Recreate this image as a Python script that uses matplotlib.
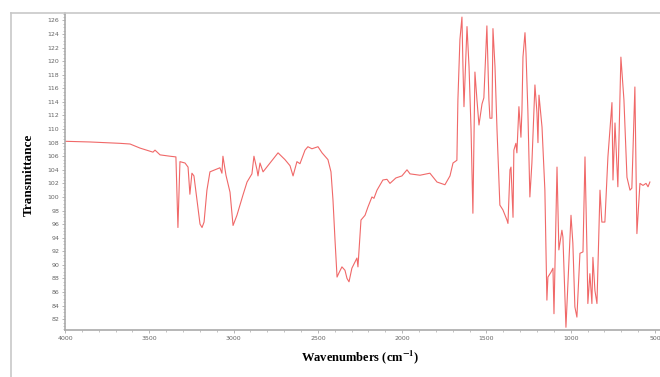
import numpy as np
import matplotlib
matplotlib.use("Agg")
import matplotlib.pyplot as plt
from matplotlib.lines import Line2D
from matplotlib.ticker import MultipleLocator

plt.rcParams["mathtext.fontset"] = "stix"

# FTIR spectrum (wavenumber in cm-1, transmittance)
wavenumber = [4000, 3852, 3674, 3614, 3555, 3478, 3466, 3436, 3377, 3342,
              3330, 3318, 3288, 3270, 3259, 3247, 3235, 3217, 3199, 3187,
              3175, 3158, 3140, 3110, 3081, 3069, 3063, 3045, 3021, 3003,
              2980, 2944, 2920, 2891, 2879, 2861, 2855, 2843, 2825, 2784,
              2736, 2695, 2665, 2647, 2624, 2606, 2576, 2559, 2535, 2499,
              2475, 2440, 2422, 2410, 2398, 2386, 2375, 2357, 2339, 2327,
              2315, 2298, 2268, 2262, 2244, 2220, 2203, 2179, 2167, 2149,
              2114, 2090, 2072, 2037, 2001, 1971, 1953, 1894, 1835, 1793,
              1746, 1716, 1698, 1675, 1669, 1657, 1645, 1639, 1633, 1615,
              1603, 1591, 1580, 1568, 1556, 1544, 1526, 1515, 1497, 1485,
              1479, 1467, 1461, 1449, 1437, 1420, 1402, 1378, 1372, 1360,
              1354, 1342, 1337, 1325, 1319, 1307, 1295, 1289, 1283, 1271,
              1265, 1254, 1242, 1230, 1212, 1200, 1194, 1188, 1176, 1170,
              1153, 1141, 1135, 1117, 1105, 1099, 1081, 1070, 1052, 1046,
              1028, 998, 987, 975, 963, 945, 927, 915, 903, 898,
              886, 874, 868, 856, 844, 826, 815, 797, 779, 755,
              749, 737, 720, 702, 684, 666, 648, 637, 619, 607,
              589, 571, 553, 541, 530]
transmittance = [108.2, 108.1, 107.9, 107.8, 107.2, 106.6, 106.9, 106.2, 106.0, 105.9,
                 95.5, 105.2, 105.0, 104.4, 100.4, 103.5, 103.1, 99.5, 96.0, 95.5,
                 96.3, 101.0, 103.7, 104.0, 104.3, 103.5, 106.0, 103.2, 100.7, 95.8,
                 97.3, 100.3, 102.2, 103.4, 106.0, 104.0, 103.1, 105.0, 103.7, 105.0,
                 106.5, 105.5, 104.6, 103.1, 105.2, 104.9, 106.9, 107.4, 107.1, 107.4,
                 106.5, 105.5, 103.7, 99.5, 93.6, 88.2, 88.8, 89.7, 89.2, 88.0,
                 87.5, 89.5, 91.0, 89.7, 96.6, 97.3, 98.5, 100.0, 99.8, 101.0,
                 102.5, 102.6, 102.0, 102.8, 103.1, 104.0, 103.4, 103.2, 103.5, 102.2,
                 101.8, 103.1, 105.0, 105.4, 114.3, 123.2, 126.5, 119.2, 113.3, 125.1,
                 119.2, 109.9, 97.6, 118.4, 114.3, 110.6, 113.7, 114.6, 125.2, 114.3,
                 111.6, 111.6, 124.8, 119.2, 109.9, 98.8, 98.1, 96.6, 96.1, 104.0,
                 104.4, 97.0, 106.9, 107.9, 106.5, 113.3, 108.8, 112.8, 120.6, 124.2,
                 121.2, 112.8, 100.0, 105.0, 116.5, 112.4, 108.0, 115.0, 111.8, 110.3,
                 101.0, 84.8, 88.2, 88.9, 89.5, 82.8, 104.4, 92.2, 95.1, 94.1,
                 80.8, 97.3, 93.2, 83.8, 82.3, 91.7, 91.9, 105.9, 91.7, 84.3,
                 88.7, 84.3, 91.1, 86.2, 84.3, 101.0, 96.3, 96.3, 105.9, 113.9,
                 102.5, 110.9, 101.5, 120.6, 114.3, 102.9, 101.0, 101.3, 116.2, 94.6,
                 102.0, 101.7, 102.0, 101.5, 102.2]

W, H = 660, 377
fig = plt.figure(figsize=(W / 100, H / 100), dpi=100)
ax = fig.add_axes([65 / W, (H - 330) / H, (W - 65) / W, (330 - 13) / H])

ax.plot(wavenumber, transmittance, color="#f06868", lw=0.8)

ax.set_xlim(4000, 470)
ax.set_ylim(80.4, 127.1)
ax.xaxis.set_major_locator(MultipleLocator(500))
ax.xaxis.set_minor_locator(MultipleLocator(100))
ax.yaxis.set_minor_locator(MultipleLocator(0.5))
ax.set_yticks(np.arange(82, 127, 2))

gray = "#aaaaaa"
for side in ["top", "right"]:
    ax.spines[side].set_visible(False)
for side in ["left", "bottom"]:
    ax.spines[side].set_color(gray)
    ax.spines[side].set_linewidth(1.2)
ax.tick_params(which="major", length=2.5, width=0.6, color=gray,
               labelsize=4.5, labelcolor="#666666", pad=1.5)
ax.tick_params(which="minor", length=1.5, width=0.5, color=gray)

ax.set_xlabel("Wavenumbers (cm$^{\\mathbf{-1}}$)", family="Liberation Serif",
              fontweight="bold", fontsize=9)
ax.xaxis.set_label_coords((360 - 65) / (W - 65), -(357 - 330) / (330 - 13))
ax.xaxis.label.set_va("center")
ax.set_ylabel("Transmittance", family="Liberation Serif",
              fontweight="bold", fontsize=9.5)
ax.yaxis.set_label_coords(-(65 - 35) / (W - 65), (330 - 175) / (330 - 13))

# outer frame around the picture
fig.add_artist(Line2D([11 / W, 1], [1 - 13 / H, 1 - 13 / H],
                      transform=fig.transFigure, color="#c8c8c8", lw=1.2))
fig.add_artist(Line2D([11 / W, 11 / W], [0, 1 - 13 / H],
                      transform=fig.transFigure, color="#c8c8c8", lw=1.2))

fig.savefig("out.png", dpi=100)
